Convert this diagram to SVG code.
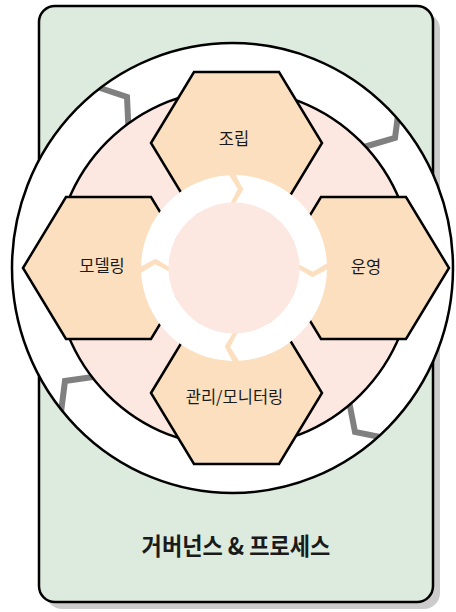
<svg xmlns="http://www.w3.org/2000/svg" width="456" height="612" viewBox="0 0 456 612">
  <style>
    .lbl { font-family: "Noto Sans CJK KR", "Noto Sans", sans-serif; font-size: 16.5px; fill: #1a1a1a; text-anchor: middle; }
    .title { font-family: "Noto Sans CJK KR", "Noto Sans", sans-serif; font-size: 24px; font-weight: bold; fill: #1a1a1a; text-anchor: middle; }
    .hex { fill: #fbdfbf; stroke: #000; stroke-width: 2.5; stroke-linejoin: miter; }
    .conn { fill: none; stroke: #808080; stroke-width: 6; stroke-linejoin: miter; }
    .ring { fill: #ffffff; stroke: none; }
  </style>
  <defs>
    <clipPath id="ellClip">
      <ellipse cx="232.5" cy="268" rx="220.5" ry="225"/>
    </clipPath>
    <polygon id="hexShape" points="-85.5,0 -42.5,-71 42.5,-71 85.5,0 42.5,71 -42.5,71"/>
  </defs>

  <g id="governance">
    <rect x="46" y="13" width="394" height="596" rx="16" ry="16" fill="#cccccc"/>
    <rect x="39" y="6" width="394" height="596" rx="16" ry="16" fill="#dcebdd" stroke="#000" stroke-width="2.5"/>
    <text class="title" transform="translate(236,555) scale(0.92,1)" x="0" y="0">거버넌스 &amp; 프로세스</text>
  </g>

  <g id="outer-circle">
    <ellipse cx="232.5" cy="268" rx="220.5" ry="225" fill="#ffffff"/>
  </g>

  <g id="connectors" clip-path="url(#ellClip)">
    <polyline class="conn" points="94,86 127,97 129,140"/>
    <polyline class="conn" points="400,100 395,138 357,149"/>
    <polyline class="conn" points="100,376 65,381 60,420"/>
    <polyline class="conn" points="348,396 355,432 395,440"/>
  </g>

  <g id="outer-circle-stroke">
    <ellipse cx="232.5" cy="268" rx="220.5" ry="225" fill="none" stroke="#000" stroke-width="2.5"/>
  </g>

  <g id="lifecycle">
    <circle cx="234" cy="268" r="179" fill="#fde8e1" stroke="#000" stroke-width="2.5"/>
  </g>

  <g id="hex-assembly">
    <use href="#hexShape" class="hex" transform="translate(236.5,143)"/>
    <text class="lbl" x="234" y="145">조립</text>
  </g>
  <g id="hex-modeling">
    <use href="#hexShape" class="hex" transform="translate(108.5,268)"/>
    <text class="lbl" x="102" y="272">모델링</text>
  </g>
  <g id="hex-operation">
    <use href="#hexShape" class="hex" transform="translate(363.5,268)"/>
    <text class="lbl" x="366" y="273">운영</text>
  </g>
  <g id="hex-management">
    <use href="#hexShape" class="hex" transform="translate(236.5,393)"/>
    <text class="lbl" x="234.5" y="403">관리/모니터링</text>
  </g>

  <g id="cycle-ring">
    <path class="ring" d="M235.62,175.01 A93,93 0 0 1 326.87,263.13 L312.91,271.86 L298.91,264.60 A65,65 0 0 0 235.13,203.01 L243.35,189.55 Z"/>
    <path class="ring" d="M326.99,269.62 A93,93 0 0 1 238.87,360.87 L230.14,346.91 L237.40,332.91 A65,65 0 0 0 298.99,269.13 L312.45,277.35 Z"/>
    <path class="ring" d="M232.38,360.99 A93,93 0 0 1 141.13,272.87 L155.09,264.14 L169.09,271.40 A65,65 0 0 0 232.87,332.99 L224.65,346.45 Z"/>
    <path class="ring" d="M141.01,266.38 A93,93 0 0 1 229.13,175.13 L237.86,189.09 L230.60,203.09 A65,65 0 0 0 169.01,266.87 L155.55,258.65 Z"/>
    <circle cx="234" cy="268" r="65.5" fill="#fde8e1"/>
  </g>
</svg>
